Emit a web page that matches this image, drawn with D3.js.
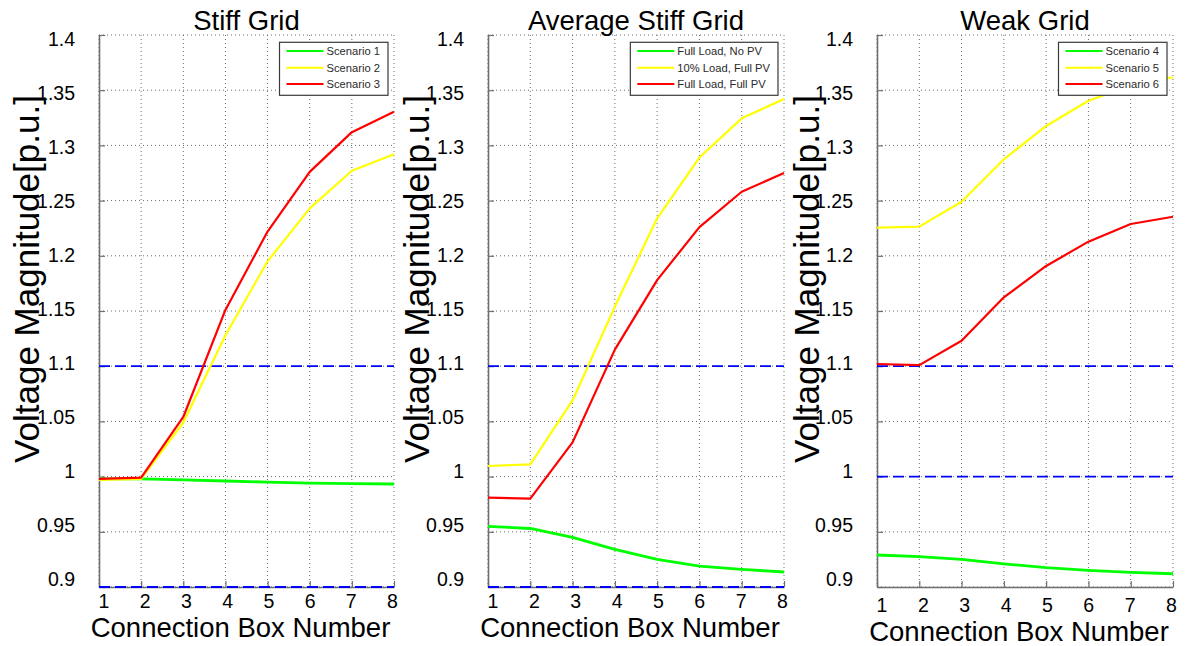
<!DOCTYPE html>
<html>
<head>
<meta charset="utf-8">
<script src="https://cdn.jsdelivr.net/npm/d3@7"></script>
<style>
  html, body { margin: 0; padding: 0; background: #fff; }
  svg { display: block; font-family: "Liberation Sans", Arial, Helvetica, sans-serif; }
</style>
</head>
<body>
<svg id="chart" width="1191" height="646"></svg>
<script>
// ---------- data ----------
const boxes = [1, 2, 3, 4, 5, 6, 7, 8];
const yTicks = [0.9, 0.95, 1.0, 1.05, 1.1, 1.15, 1.2, 1.25, 1.3, 1.35, 1.4];
const yTickLabels = ["0.9", "0.95", "1", "1.05", "1.1", "1.15", "1.2", "1.25", "1.3", "1.35", "1.4"];
const xTickLabels = ["1", "2", "3", "4", "5", "6", "7", "8"];
const titles = ["Stiff Grid", "Average Stiff Grid", "Weak Grid"];
const xAxisTitle = "Connection Box Number";
const yAxisTitle = "Voltage Magnitude[p.u.]";

const stiffLegend = ["Scenario 1", "Scenario 2", "Scenario 3"];
const avgLegend = ["Full Load, No PV", "10% Load, Full PV", "Full Load, Full PV"];
const weakLegend = ["Scenario 4", "Scenario 5", "Scenario 6"];

const stiffGreen  = [0.998, 0.998, 0.997, 0.996, 0.995, 0.994, 0.9936, 0.9933];
const stiffYellow = [0.997, 0.998, 1.049, 1.128, 1.195, 1.243, 1.277, 1.292];
const stiffRed    = [0.998, 0.999, 1.054, 1.151, 1.222, 1.276, 1.312, 1.3305];

const avgGreen  = [0.955, 0.953, 0.945, 0.934, 0.925, 0.919, 0.916, 0.9136];
const avgYellow = [1.0096, 1.011, 1.069, 1.154, 1.234, 1.289, 1.3245, 1.342];
const avgRed    = [0.981, 0.980, 1.031, 1.115, 1.178, 1.226, 1.258, 1.275];

const weakGreen  = [0.929, 0.9275, 0.925, 0.921, 0.9175, 0.915, 0.9133, 0.912];
const weakYellow = [1.2255, 1.2264, 1.249, 1.2874, 1.3176, 1.3405, 1.354, 1.3617];
const weakRed    = [1.102, 1.101, 1.123, 1.1624, 1.1908, 1.2128, 1.2288, 1.2354];

const stiffLimits = [1.1, 0.9];
const avgLimits   = [1.1, 0.9];
const weakLimits  = [1.1, 1.0];

// ---------- layout / style ----------
const seriesColors = ["#00ff00", "#ffff00", "#ff0000"];
const seriesWidths = [2.8, 2.2, 2.2];
const panels = [
  { left: 99,  right: 394,  title: titles[0], legend: stiffLegend, series: [stiffGreen, stiffYellow, stiffRed], limits: stiffLimits, ylabX: 26 },
  { left: 488, right: 784,  title: titles[1], legend: avgLegend,   series: [avgGreen, avgYellow, avgRed],       limits: avgLimits,   ylabX: 416 },
  { left: 877, right: 1173, title: titles[2], legend: weakLegend,  series: [weakGreen, weakYellow, weakRed],    limits: weakLimits,  ylabX: 806 }
];
const plotTop = 35, plotBottom = 587;

const svg = d3.select("#chart");

panels.forEach((p, pi) => {
  const x = d3.scaleLinear().domain([1, 8]).range([p.left, p.right]);
  const y = d3.scaleLinear().domain([0.9, 1.4]).range([plotBottom, plotTop]);
  // label placement scales (labels sit slightly inside the tick span, as in the original)
  const xl = d3.scaleLinear().domain([1, 8]).range([p.left + 5, p.right - 1.5]);
  const yl = d3.scaleLinear().domain([0.9, 1.4]).range([plotBottom - 8.5, plotTop + 4]);

  const g = svg.append("g");

  // grid (dotted)
  g.append("g").selectAll("line").data(boxes).join("line")
    .attr("x1", d => x(d)).attr("x2", d => x(d))
    .attr("y1", plotTop).attr("y2", plotBottom)
    .attr("stroke", "#6a6a6a").attr("stroke-width", 1).attr("stroke-dasharray", "1,3");
  g.append("g").selectAll("line").data(yTicks).join("line")
    .attr("x1", p.left).attr("x2", p.right)
    .attr("y1", d => y(d)).attr("y2", d => y(d))
    .attr("stroke", "#6a6a6a").attr("stroke-width", 1).attr("stroke-dasharray", "1,3");

  // axes: spines + inward ticks
  const ax = g.append("g").attr("transform", `translate(0,${plotBottom})`)
    .call(d3.axisBottom(x).tickValues(boxes).tickSizeInner(-6).tickSizeOuter(0).tickFormat(""));
  const ay = g.append("g").attr("transform", `translate(${p.left},0)`)
    .call(d3.axisLeft(y).tickValues(yTicks).tickSizeInner(-6).tickSizeOuter(0).tickFormat(""));
  [ax, ay].forEach(a => {
    a.select(".domain").attr("stroke", "#6e6e6e").attr("stroke-width", 1.6);
    a.selectAll(".tick line").attr("stroke", "#6e6e6e").attr("stroke-width", 1.2);
  });

  // limit lines (blue dashed)
  g.append("g").selectAll("line").data(p.limits).join("line")
    .attr("x1", p.left).attr("x2", p.right)
    .attr("y1", d => y(d)).attr("y2", d => y(d))
    .attr("stroke", "#0000ff").attr("stroke-width", 1.8).attr("stroke-dasharray", "11,5");

  // series
  const line = d3.line().x((d, i) => x(boxes[i])).y(d => y(d));
  p.series.forEach((s, si) => {
    g.append("path").datum(s)
      .attr("d", line)
      .attr("fill", "none")
      .attr("stroke", seriesColors[si])
      .attr("stroke-width", seriesWidths[si])
      .attr("stroke-linejoin", "round");
  });

  // tick labels
  g.append("g").selectAll("text").data(yTicks).join("text")
    .attr("x", p.left - 24).attr("y", d => yl(d))
    .attr("text-anchor", "end").attr("dominant-baseline", "central")
    .attr("font-size", 19.5).attr("fill", "#000")
    .text((d, i) => yTickLabels[i]);
  g.append("g").selectAll("text").data(boxes).join("text")
    .attr("x", d => xl(d)).attr("y", 601 + (pi === 2 ? 4 : 0))
    .attr("text-anchor", "middle").attr("dominant-baseline", "central")
    .attr("font-size", 19.5).attr("fill", "#000")
    .text((d, i) => xTickLabels[i]);

  // titles
  g.append("text")
    .attr("x", (p.left + p.right) / 2).attr("y", 30)
    .attr("text-anchor", "middle").attr("font-size", 27.5).attr("fill", "#000")
    .text(p.title);
  g.append("text")
    .attr("x", (p.left + p.right) / 2 - 6).attr("y", 637 + (pi === 2 ? 4 : 0))
    .attr("text-anchor", "middle").attr("font-size", 27.5).attr("fill", "#000")
    .text(xAxisTitle);
  g.append("text")
    .attr("transform", `translate(${p.ylabX},${(plotTop + plotBottom) / 2 - 32}) rotate(-90)`)
    .attr("text-anchor", "middle").attr("dominant-baseline", "central")
    .attr("font-size", 35).attr("fill", "#000")
    .text(yAxisTitle);

  // legend
  const lg = g.append("g");
  const rowY = [51, 67.7, 84];
  const texts = lg.selectAll("text").data(p.legend).join("text")
    .attr("y", (d, i) => rowY[i]).attr("dominant-baseline", "central")
    .attr("font-size", 11.2).attr("fill", "#2a2a2a")
    .text(d => d);
  let maxW = 0;
  texts.each(function () { maxW = Math.max(maxW, this.getComputedTextLength()); });
  const boxW = 7 + 37 + 3 + maxW + 8;
  const boxRight = p.right - 6;
  const boxLeft = boxRight - boxW;
  lg.insert("rect", "text")
    .attr("x", boxLeft).attr("y", 42.3).attr("width", boxW).attr("height", 53)
    .attr("fill", "#fff").attr("stroke", "#3a3a3a").attr("stroke-width", 1.2);
  lg.selectAll("line").data(p.legend).join("line")
    .attr("x1", boxLeft + 7).attr("x2", boxLeft + 44)
    .attr("y1", (d, i) => rowY[i]).attr("y2", (d, i) => rowY[i])
    .attr("stroke", (d, i) => seriesColors[i]).attr("stroke-width", 2);
  texts.attr("x", boxLeft + 47);
});
</script>
</body>
</html>
